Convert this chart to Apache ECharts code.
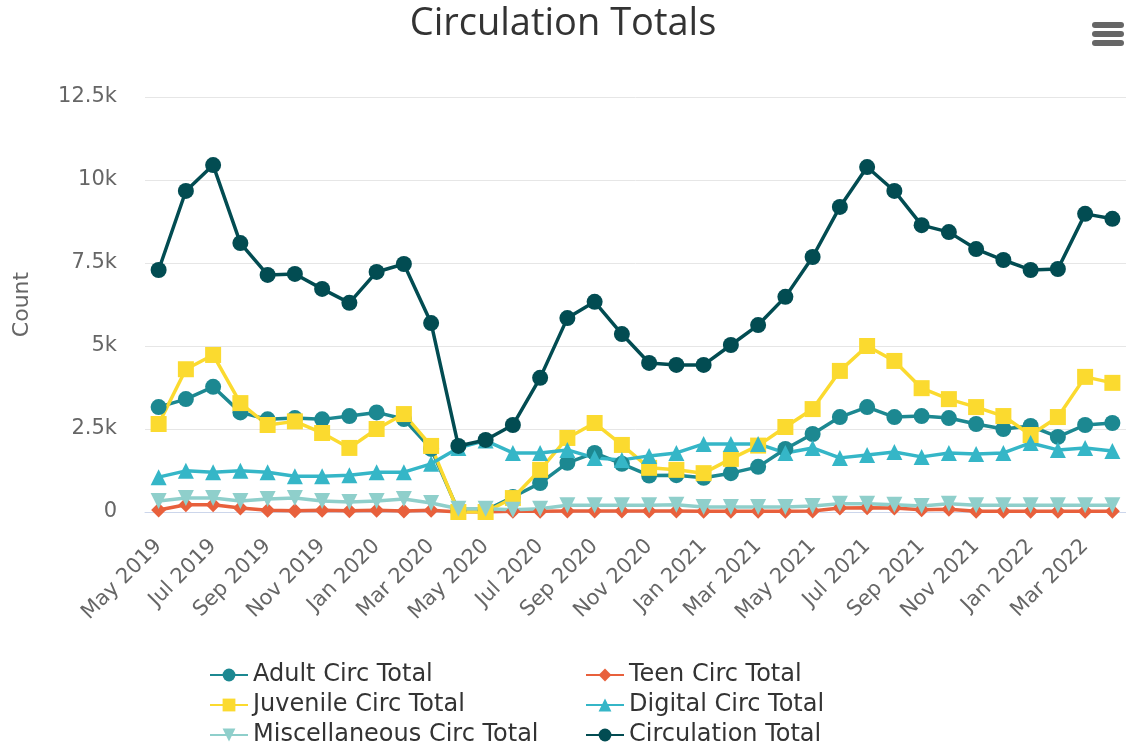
<!DOCTYPE html>
<html>
<head>
<meta charset="utf-8">
<script src="https://cdn.jsdelivr.net/npm/echarts@6/dist/echarts.min.js"></script>
<style>
  html, body { margin: 0; padding: 0; background: #fff; }
  #chart { width: 1126px; height: 750px; }
</style>
</head>
<body>
<div id="chart"></div>
<script>
let months = [
  'May 2019', 'Jun 2019', 'Jul 2019', 'Aug 2019', 'Sep 2019', 'Oct 2019', 'Nov 2019', 'Dec 2019',
  'Jan 2020', 'Feb 2020', 'Mar 2020', 'Apr 2020', 'May 2020', 'Jun 2020', 'Jul 2020', 'Aug 2020',
  'Sep 2020', 'Oct 2020', 'Nov 2020', 'Dec 2020', 'Jan 2021', 'Feb 2021', 'Mar 2021', 'Apr 2021',
  'May 2021', 'Jun 2021', 'Jul 2021', 'Aug 2021', 'Sep 2021', 'Oct 2021', 'Nov 2021', 'Dec 2021',
  'Jan 2022', 'Feb 2022', 'Mar 2022', 'Apr 2022'
];

let adultCirc = [
  3160, 3400, 3770, 3000, 2790, 2830, 2790, 2890, 3000, 2800, 1900, 30,
  50, 450, 870, 1480, 1780, 1450, 1100, 1110, 1030, 1170, 1360, 1900,
  2350, 2860, 3160, 2860, 2890, 2830, 2650, 2500, 2590, 2260, 2620, 2680
];
let teenCirc = [
  60, 220, 220, 120, 50, 40, 50, 40, 50, 30, 50, 0,
  0, 20, 20, 30, 30, 30, 30, 30, 20, 20, 20, 20,
  30, 120, 130, 120, 70, 80, 20, 20, 20, 20, 20, 20
];
let juvenileCirc = [
  2650, 4300, 4730, 3280, 2620, 2730, 2380, 1930, 2500, 2950, 1990, 0,
  0, 420, 1270, 2230, 2680, 2020, 1330, 1270, 1170, 1600, 2000, 2560,
  3100, 4250, 5000, 4550, 3730, 3400, 3160, 2890, 2320, 2860, 4070, 3890
];
let digitalCirc = [
  1050, 1240, 1200, 1240, 1200, 1080, 1080, 1110, 1200, 1200, 1450, 1930,
  2150, 1780, 1780, 1870, 1630, 1570, 1690, 1780, 2050, 2050, 2050, 1780,
  1930, 1630, 1720, 1810, 1660, 1780, 1750, 1780, 2080, 1870, 1930, 1840
];
let miscCirc = [
  330, 420, 420, 330, 390, 420, 330, 300, 330, 390, 270, 100,
  100, 70, 100, 200, 200, 200, 200, 220, 150, 150, 150, 150,
  180, 250, 250, 220, 180, 250, 200, 200, 200, 200, 200, 200
];
let circulationTotal = [
  7290, 9670, 10450, 8100, 7140, 7170, 6720, 6300, 7230, 7470, 5690, 1990,
  2170, 2620, 4040, 5840, 6330, 5360, 4490, 4430, 4430, 5030, 5630, 6480,
  7680, 9190, 10390, 9670, 8640, 8430, 7920, 7590, 7290, 7320, 8980, 8830
];

let yTicks = [0, 2500, 5000, 7500, 10000, 12500];

let labelFont = '"DejaVu Sans", Verdana, sans-serif';
let titleFont = '"Open Sans", "Noto Sans", sans-serif';
let triangleDown = 'path://M0,0 L10,0 L5,9 Z';

function makeSeries(name, data, color, symbol, size) {
  return {
    name: name,
    type: 'line',
    data: data,
    symbol: symbol,
    symbolSize: size,
    showAllSymbol: true,
    lineStyle: { color: color, width: 3.5 },
    itemStyle: { color: color },
    emphasis: { disabled: true }
  };
}

let legendText = { fontSize: 24, lineHeight: 24, color: '#333', fontFamily: labelFont };

let chart = echarts.init(document.getElementById('chart'));

let option = {
  animation: false,
  textStyle: { fontFamily: labelFont },
  title: {
    text: 'Circulation Totals',
    left: 'center',
    top: 0,
    textStyle: { fontSize: 38, fontWeight: 'normal', color: '#333', fontFamily: titleFont }
  },
  graphic: [
    { type: 'rect', right: 2, top: 22, shape: { width: 32, height: 6, r: 3 }, style: { fill: '#666' } },
    { type: 'rect', right: 2, top: 31, shape: { width: 32, height: 6, r: 3 }, style: { fill: '#666' } },
    { type: 'rect', right: 2, top: 40, shape: { width: 32, height: 6, r: 3 }, style: { fill: '#666' } }
  ],
  legend: [
    {
      orient: 'vertical',
      left: 209,
      top: 663,
      padding: 0,
      itemGap: 6,
      itemWidth: 38,
      itemHeight: 16,
      textStyle: legendText,
      data: ['Adult Circ Total', 'Juvenile Circ Total', 'Miscellaneous Circ Total']
    },
    {
      orient: 'vertical',
      left: 585,
      top: 663,
      padding: 0,
      itemGap: 6,
      itemWidth: 38,
      itemHeight: 16,
      textStyle: legendText,
      data: ['Teen Circ Total', 'Digital Circ Total', 'Circulation Total']
    }
  ],
  grid: { left: 145, right: 0, top: 97, bottom: 238, containLabel: false },
  xAxis: {
    type: 'category',
    data: months,
    boundaryGap: true,
    axisLine: { lineStyle: { color: '#ccd6eb', width: 1 } },
    axisTick: { show: false },
    axisLabel: { interval: 1, rotate: 45, fontSize: 21, color: '#666', margin: 31, fontFamily: labelFont }
  },
  yAxis: {
    type: 'value',
    min: yTicks[0],
    max: yTicks[yTicks.length - 1],
    interval: 2500,
    name: 'Count',
    nameLocation: 'middle',
    nameGap: 112,
    nameRotate: 90,
    nameTextStyle: { fontSize: 22, color: '#666', fontFamily: labelFont },
    splitLine: { lineStyle: { color: '#e6e6e6', width: 1 } },
    axisLine: { show: false },
    axisTick: { show: false },
    axisLabel: {
      fontSize: 21,
      color: '#666',
      margin: 28,
      fontFamily: labelFont,
      formatter: function (v) { return v === 0 ? '0' : (v / 1000) + 'k'; }
    }
  },
  series: [
    makeSeries('Adult Circ Total', adultCirc, '#1c8891', 'circle', 16),
    makeSeries('Teen Circ Total', teenCirc, '#e8603c', 'diamond', 15),
    makeSeries('Juvenile Circ Total', juvenileCirc, '#fbda2f', 'rect', 16),
    makeSeries('Digital Circ Total', digitalCirc, '#35b6c7', 'triangle', 16),
    makeSeries('Miscellaneous Circ Total', miscCirc, '#8fcfcb', triangleDown, 16),
    makeSeries('Circulation Total', circulationTotal, '#024c52', 'circle', 16)
  ]
};

chart.setOption(option);
</script>
</body>
</html>
